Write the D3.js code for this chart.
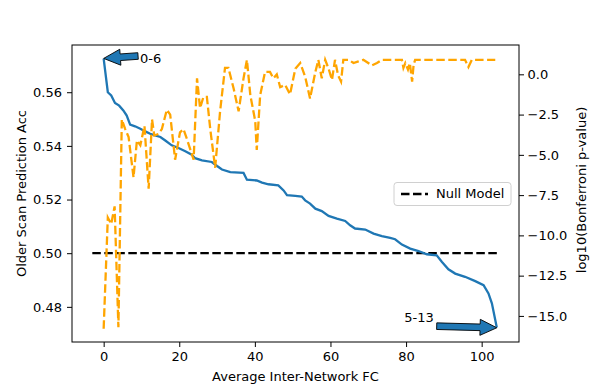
<!DOCTYPE html>
<html>
<head>
    <meta charset="utf-8">
    <script src="https://d3js.org/d3.v7.min.js"></script>
    <style>
        body { margin: 0; background: white; }
        text { font-family: "DejaVu Sans", sans-serif; font-size: 13px; fill: #000; }
    </style>
</head>
<body>
    <script>
        // blue curve: prediction accuracy (left axis)
        var accX = [0, 1.1, 2, 3, 4.1, 5.2, 6.1, 7, 8.3, 9.7, 11, 12.3, 13.6, 15, 16.3, 18, 19.8, 21.6, 23.3, 24.2, 26, 28.6, 30, 31.3, 33.5, 37, 37.9, 40.5, 41.9, 43.6, 46.2, 47.6, 48.5, 50.7, 52.4, 53.3, 54.6, 56, 57.7, 59.5, 61.7, 63.9, 65.2, 66.5, 69.2, 71.4, 73.6, 75.8, 77.1, 78.9, 81.1, 83.3, 85.5, 88.1, 89.5, 91.2, 93, 95.6, 98.3, 100.5, 101.8, 102.7, 104];
        var accY = [0.5725, 0.560, 0.5588, 0.556, 0.555, 0.5532, 0.5513, 0.5479, 0.5473, 0.5464, 0.5454, 0.5445, 0.5439, 0.5433, 0.542, 0.5402, 0.5392, 0.538, 0.5367, 0.5354, 0.5346, 0.534, 0.5325, 0.5312, 0.5302, 0.5299, 0.5274, 0.5271, 0.5263, 0.5257, 0.5253, 0.5234, 0.5216, 0.5214, 0.5211, 0.5197, 0.5185, 0.5166, 0.5157, 0.5139, 0.5129, 0.512, 0.5104, 0.5092, 0.5088, 0.5073, 0.5064, 0.5057, 0.5052, 0.5032, 0.5017, 0.5008, 0.4996, 0.4992, 0.4967, 0.494, 0.4924, 0.4912, 0.4896, 0.4881, 0.485, 0.4813, 0.4723];

        // orange curve: log10 bonferroni p-value (right axis)
        var pvX = [0, 1.1, 2, 2.9, 3.9, 4.8, 5.7, 6.6, 7.9, 8.8, 9.7, 10.8, 11.9, 12.8, 13.4, 14.5, 15.4, 16.7, 17.6, 18.9, 20.2, 21.1, 22, 23.8, 24.7, 25.5, 26.4, 27.3, 28.2, 29.5, 30.8, 32.1, 33, 34.4, 35.7, 37, 37.9, 38.8, 40.1, 40.5, 41.4, 42.7, 44, 44.9, 45.8, 46.7, 48, 49.3, 50.7, 52, 53.3, 54.6, 56, 56.8, 57.7, 58.6, 59.5, 60.4, 61.2, 62, 62.8, 63.4, 64.8, 66.1, 67.4, 68.7, 70, 70.9, 72.3, 73.6, 78.9, 79.3, 79.8, 80.5, 81, 81.6, 82, 82.4, 95.6, 96.5, 97.4, 103.6];
        var pvY = [-15.8, -8.9, -9.3, -8.2, -15.7, -2.8, -3.4, -3.9, -6.4, -4.1, -4.4, -3.2, -7.1, -2.8, -3.8, -3.7, -3.4, -2.2, -2.5, -5.3, -3.6, -3.4, -4.0, -5.3, -0.25, -2.1, -1.4, -1.4, -3.4, -5.8, -2.3, 0.4, 0.4, -0.9, -2.3, -0.25, 0.9, -1.3, -2.9, -4.7, -1.3, 0.15, 0.15, -0.25, 0.0, -0.8, -0.65, -1.25, 0.35, 0.7, -0.15, -1.5, 0.15, 0.9, -0.25, 0.9, 0.35, -0.35, 0.9, -0.05, -0.45, 0.9, 0.9, 0.7, 0.8, 0.9, 0.7, 0.55, 0.7, 0.9, 0.9, 0.4, 0.7, 0.3, 0.7, -0.45, 0.6, 0.9, 0.9, 0.45, 0.9, 0.9];

        var nullX = [-3, 104.5];
        var nullY = 0.5;

        var xTicks = [0, 20, 40, 60, 80, 100];
        var leftTicks = [0.48, 0.50, 0.52, 0.54, 0.56];
        var rightTicks = [0, -2.5, -5, -7.5, -10, -12.5, -15];

        var annLabels = ["0-6", "5-13"];
        var annTip = [[0, 0.5726], [104, 0.4722]];
        var annTail = [[9.1, 0.5735], [88.1, 0.4728]];
        var annText = [[9.6, 0.5721], [79.5, 0.4757]];

        var W = 599, H = 385;
        var pL = 72, pR = 519, pT = 45, pB = 342;

        var svg = d3.select("body").append("svg").attr("width", W).attr("height", H);

        var x = d3.scaleLinear().domain([-8.375, 109.875]).range([pL, pR]);
        var yL = d3.scaleLinear().domain([0.4669, 0.5776]).range([pB, pT]);
        var yR = d3.scaleLinear().domain([-16.62, 1.82]).range([pB, pT]);

        svg.append("g").attr("transform", "translate(0," + pB + ")")
            .call(d3.axisBottom(x).tickValues(xTicks).tickSize(5).tickPadding(5).tickFormat(d3.format("d")));
        svg.append("g").attr("transform", "translate(" + pL + ",0)")
            .call(d3.axisLeft(yL).tickValues(leftTicks).tickSize(5).tickPadding(5).tickFormat(d3.format(".2f")));
        svg.append("g").attr("transform", "translate(" + pR + ",0)")
            .call(d3.axisRight(yR).tickValues(rightTicks).tickSize(5).tickPadding(3.5).tickFormat(d3.format(".1f")));

        svg.selectAll(".tick text").style("font-size", "13px").style("font-family", "DejaVu Sans, sans-serif").attr("fill", "#000");
        svg.selectAll(".tick line").attr("stroke", "#000").attr("stroke-width", 1);
        svg.selectAll(".domain").remove();

        // frame
        svg.append("rect").attr("x", pL).attr("y", pT)
            .attr("width", pR - pL).attr("height", pB - pT)
            .attr("fill", "none").attr("stroke", "#000").attr("stroke-width", 1);

        // null model
        svg.append("line")
            .attr("x1", x(nullX[0])).attr("x2", x(nullX[1]))
            .attr("y1", yL(nullY)).attr("y2", yL(nullY))
            .attr("stroke", "#000").attr("stroke-width", 2.3).attr("stroke-dasharray", "8.5,3.5");

        var accLine = d3.line().x(function(d, i){ return x(accX[i]); }).y(function(d){ return yL(d); });
        svg.append("path").attr("d", accLine(accY))
            .attr("fill", "none").attr("stroke", "#1f77b4").attr("stroke-width", 2.3);

        var pvLine = d3.line().x(function(d, i){ return x(pvX[i]); }).y(function(d){ return yR(d); });
        svg.append("path").attr("d", pvLine(pvY))
            .attr("fill", "none").attr("stroke", "#ffa500").attr("stroke-width", 2.3)
            .attr("stroke-dasharray", "8.5,3.5");

        // arrows
        function arrowPath(tail, tip){
            var x0 = x(tail[0]), y0 = yL(tail[1]), x1 = x(tip[0]), y1 = yL(tip[1]);
            var dx = x1 - x0, dy = y1 - y0, len = Math.sqrt(dx*dx + dy*dy);
            var ux = dx/len, uy = dy/len, nx = -uy, ny = ux;
            var sw = 3.3, hw = 8, hl = 16.7;
            var bx = x1 - ux*hl, by = y1 - uy*hl;
            var pts = [
                [x0 + nx*sw, y0 + ny*sw], [bx + nx*sw, by + ny*sw], [bx + nx*hw, by + ny*hw],
                [x1, y1],
                [bx - nx*hw, by - ny*hw], [bx - nx*sw, by - ny*sw], [x0 - nx*sw, y0 - ny*sw]
            ];
            return "M" + pts.map(function(p){ return p[0] + "," + p[1]; }).join("L") + "Z";
        }
        for (var i = 0; i < annLabels.length; i++) {
            svg.append("path").attr("d", arrowPath(annTail[i], annTip[i]))
                .attr("fill", "#1f77b4").attr("stroke", "#000").attr("stroke-width", 0.9);
            svg.append("text").attr("x", x(annText[i][0])).attr("y", yL(annText[i][1]))
                .attr("dominant-baseline", "middle").text(annLabels[i]);
        }

        // axis titles
        svg.append("text").attr("x", (pL + pR) / 2).attr("y", 381)
            .attr("text-anchor", "middle").text("Average Inter-Network FC");
        svg.append("text").attr("transform", "translate(26," + ((pT + pB) / 2) + ") rotate(-90)")
            .attr("text-anchor", "middle").text("Older Scan Prediction Acc");
        svg.append("text").attr("transform", "translate(586,190) rotate(-90)")
            .attr("text-anchor", "middle").text("log10(Bonferroni p-value)");

        // legend
        var lg = svg.append("g");
        lg.append("rect").attr("x", 394).attr("y", 182.5).attr("width", 117).attr("height", 23)
            .attr("rx", 3).attr("fill", "white").attr("fill-opacity", 0.8)
            .attr("stroke", "#d0d0d0").attr("stroke-width", 1);
        lg.append("line").attr("x1", 401).attr("x2", 428).attr("y1", 194).attr("y2", 194)
            .attr("stroke", "#000").attr("stroke-width", 2.3).attr("stroke-dasharray", "8.5,3.5");
        lg.append("text").attr("x", 436).attr("y", 194).attr("dominant-baseline", "middle").text("Null Model");
    </script>
</body>
</html>
